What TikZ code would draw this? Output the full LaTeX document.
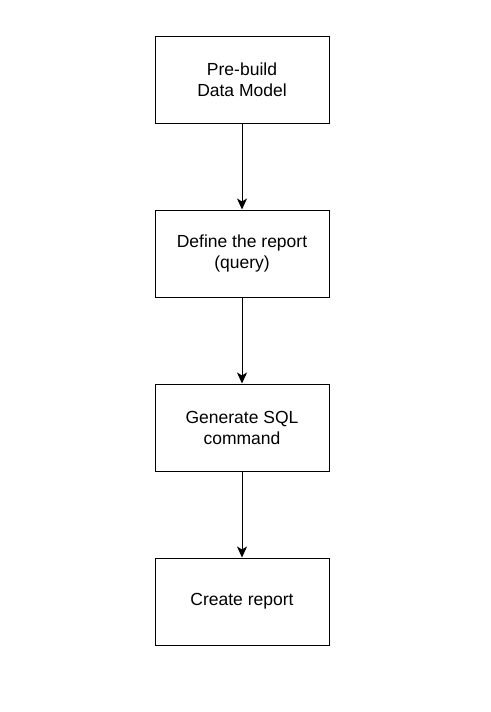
\documentclass[tikz,border=0pt]{standalone}
\usepackage{fontspec}
\setmainfont{Liberation Sans}
\usetikzlibrary{arrows.meta,positioning}

\begin{document}
\begin{tikzpicture}[>={Stealth[length=11pt,width=10pt,inset=3pt]},x=1pt,y=-1pt,
  stepbox/.style={draw,line width=1pt,minimum width=174pt,minimum height=87pt,
    align=center,font=\fontsize{17.5}{21}\selectfont}]
  \useasboundingbox (0,0) rectangle (490,712);
  \node[stepbox] (model) at (242,79.5) {Pre-build\\Data Model};
  \node[stepbox] (define) at (242,253.5) {Define the report\\(query)};
  \node[stepbox] (sql) at (242,427.5) {Generate SQL\\command};
  \node[stepbox] (report) at (242,601.5) {Create report};
  \draw[->,line width=1pt] (model) -- (define);
  \draw[->,line width=1pt] (define) -- (sql);
  \draw[->,line width=1pt] (sql) -- (report);
\end{tikzpicture}
\end{document}
